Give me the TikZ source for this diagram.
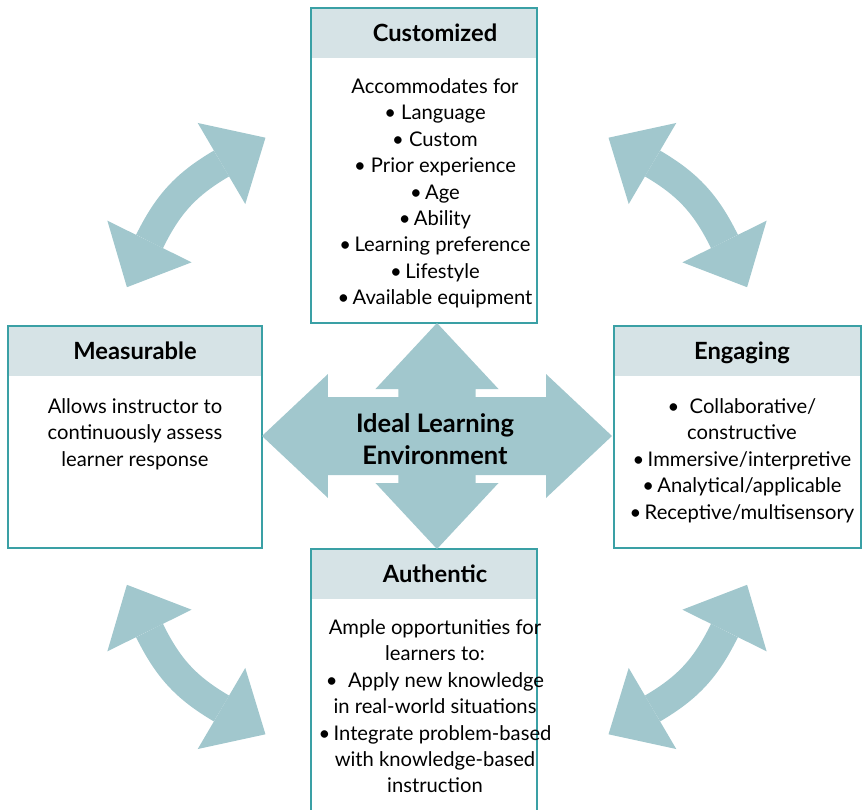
\documentclass[tikz,border=0pt]{standalone}
\usepackage{fontspec}
\setmainfont{Lato}
\usetikzlibrary{arrows.meta,positioning,calc}

\definecolor{tealline}{RGB}{58,160,165}
\definecolor{headfill}{RGB}{214,227,230}
\definecolor{arrowfill}{RGB}{161,199,205}

\newcommand{\px}{0.02cm}

\begin{document}
\begin{tikzpicture}[x=0.02cm,y=0.02cm,
	panel/.style={fill=white,inner sep=0pt,outer sep=0pt},
	frame/.style={draw=tealline,line width=0.04cm},
	headbar/.style={fill=headfill,inner sep=0pt,outer sep=0pt,minimum height=50*\px},
	headtext/.style={inner sep=0pt,text height=9.5pt,text depth=0pt,font=\fontsize{13.5}{15}\selectfont\bfseries},
	bodytext/.style={align=center,inner sep=0pt,anchor=north,font=\fontsize{11.5}{15.05}\selectfont},
	bigarrow/.style={fill=arrowfill},
	swing/.style={draw=arrowfill,line width=0.6cm,shorten <=-1.02cm,shorten >=-1.02cm,
		{Triangle[length=1.02cm,width=1.88cm,line width=0pt]}-{Triangle[length=1.02cm,width=1.88cm,line width=0pt]}}
]
\useasboundingbox (-437,-373) rectangle (425,436);

% Customized
\node[panel,minimum width=226*\px,minimum height=315*\px] (cust) at (-13,270.5) {};
\node[headbar,minimum width=226*\px,anchor=north] (custhead) at (cust.north) {};
\draw[frame] (cust.north west) rectangle (cust.south east);

% Measurable
\node[panel,minimum width=254*\px,minimum height=222*\px] (meas) at (-302,-1) {};
\node[headbar,minimum width=254*\px,anchor=north] (meashead) at (meas.north) {};
\draw[frame] (meas.north west) rectangle (meas.south east);

% Engaging
\node[panel,minimum width=247*\px,minimum height=222*\px] (eng) at (300.5,-1) {};
\node[headbar,minimum width=247*\px,anchor=north] (enghead) at (eng.north) {};
\draw[frame] (eng.north west) rectangle (eng.south east);

% Authentic
\node[panel,minimum width=226*\px,minimum height=300*\px] (auth) at (-13,-263) {};
\node[headbar,minimum width=226*\px,anchor=north] (authhead) at (auth.north) {};
\draw[frame] (auth.north west) rectangle (auth.south east);

% centre
\fill[bigarrow] (-175,0) -- (-109,62) -- (-109,39) -- (109,39) -- (109,62) -- (175,0)
	-- (109,-62) -- (109,-39) -- (-109,-39) -- (-109,-62) -- cycle;
\fill[bigarrow] (0,113) -- (61.5,47) -- (38.5,47) -- (38.5,-47) -- (61.5,-47) -- (0,-113)
	-- (-61.5,-47) -- (-38.5,-47) -- (-38.5,47) -- (-61.5,47) -- cycle;
\node[font=\fontsize{14.5}{18}\selectfont\bfseries,align=center,inner sep=0pt] (ile) at (-2,-3) {Ideal Learning\\Environment};

% texts
\node[headtext] (custtitle) at (custhead -| ile) {Customized};
\node[bodytext] (custbody) at ($(custhead.south -| ile)+(0,-20)$) {Accommodates for\\
	\textbullet\ Language\\
	\textbullet\ Custom\\
	\textbullet\ Prior experience\\
	\textbullet\,Age\\
	\textbullet\,Ability\\
	\textbullet\,Learning preference\\
	\textbullet\,Lifestyle\\
	\textbullet\,Available equipment};
\node[headtext] (meastitle) at (meashead) {Measurable};
\node[bodytext] (measbody) at ($(meashead.south)+(0,-22)$) {Allows instructor to\\
	continuously assess\\
	learner response};
\node[headtext] (engtitle) at ($(enghead)+(4.5,0)$) {Engaging};
\node[bodytext] (engbody) at ($(enghead.south)+(4.5,-22)$) {\textbullet\ \ Collaborative/\\
	constructive\\
	\textbullet\,Immersive/interpretive\\
	\textbullet\,Analytical/applicable\\
	\textbullet\,Receptive/multisensory};
\node[headtext] (authtitle) at (authhead -| ile) {Authentic};
\node[bodytext] (authbody) at ($(authhead.south -| ile)+(0,-20)$) {Ample opportunities for\\
	learners to:\\
	\textbullet\ \ Apply new knowledge\\
	in real-world situations\\
	\textbullet\,Integrate problem-based\\
	with knowledge-based\\
	instruction};

% curved arrows
\coordinate (tla) at (-287.5,194.5);
\coordinate (tlb) at (-215.5,272.5);
\coordinate (tra) at (215.5,272.5);
\coordinate (trb) at (287.5,194.5);
\coordinate (bla) at (-287.5,-194.5);
\coordinate (blb) at (-215.5,-272.5);
\coordinate (bra) at (287.5,-194.5);
\coordinate (brb) at (215.5,-272.5);
\draw[swing] (tla) to[out=63.7,in=210.4] (tlb);
\draw[swing] (tra) to[out=-30.4,in=116.3] (trb);
\draw[swing] (bla) to[out=-63.7,in=149.6] (blb);
\draw[swing] (bra) to[out=243.7,in=30.4] (brb);
\end{tikzpicture}
\end{document}
